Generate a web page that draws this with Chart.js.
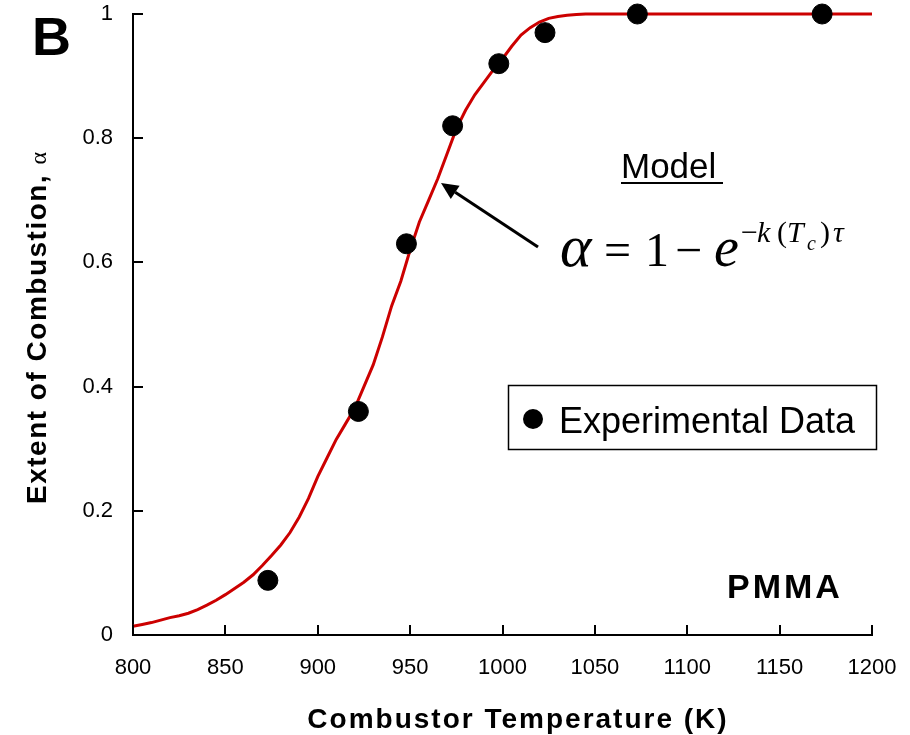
<!DOCTYPE html>
<html>
<head>
<meta charset="utf-8">
<script src="https://cdn.jsdelivr.net/npm/chart.js@4.4.1/dist/chart.umd.min.js"></script>
<style>
  body { margin: 0; background: #fff; }
  #wrap { width: 910px; height: 735px; }
</style>
</head>
<body>
<div id="wrap"><canvas id="myChart" width="910" height="735"></canvas></div>
<script>
// experimental points
const expTemps = [873, 922, 948, 973, 998, 1023, 1073, 1173];
const expAlpha = [0.088, 0.36, 0.63, 0.82, 0.92, 0.97, 1.0, 1.0];

// model curve
const modelTemps = [800, 805, 810, 815, 820, 825, 830, 835, 840, 845, 850, 855, 860, 865, 870, 875, 880, 885, 890, 895,
  900, 905, 910, 915, 920, 925, 930, 935, 940, 945, 950, 955, 960, 965, 970, 975, 980, 985, 990, 995,
  1000, 1005, 1010, 1015, 1020, 1025, 1030, 1035, 1040, 1045, 1050, 1100, 1150, 1200];
const modelAlpha = [0.014, 0.017, 0.020, 0.024, 0.028, 0.031, 0.035, 0.041, 0.048, 0.056, 0.065, 0.075, 0.085, 0.097, 0.112, 0.128, 0.145, 0.165, 0.19, 0.22,
  0.255, 0.285, 0.315, 0.34, 0.365, 0.40, 0.435, 0.48, 0.53, 0.57, 0.62, 0.665, 0.70, 0.735, 0.775, 0.815, 0.845, 0.87, 0.89, 0.91,
  0.928, 0.948, 0.966, 0.978, 0.987, 0.993, 0.996, 0.998, 0.999, 1.0, 1.0, 1.0, 1.0, 1.0];

const xTicks = [800, 850, 900, 950, 1000, 1050, 1100, 1150, 1200];
const yTicks = [0, 0.2, 0.4, 0.6, 0.8, 1];

const sans = "'Liberation Sans', Arial, sans-serif";
const serif = "'Liberation Serif', 'Times New Roman', serif";

// inward tick marks + text annotations
const extras = {
  id: 'extras',
  afterDatasetsDraw(chart) {
    const ctx = chart.ctx;
    const xs = chart.scales.x, ys = chart.scales.y;
    const area = chart.chartArea;
    ctx.save();
    ctx.strokeStyle = '#000';
    ctx.lineWidth = 2;
    xTicks.forEach(v => {
      const px = Math.round(xs.getPixelForValue(v));
      ctx.beginPath();
      ctx.moveTo(px, area.bottom);
      ctx.lineTo(px, area.bottom - 10);
      ctx.stroke();
    });
    yTicks.forEach(v => {
      const py = Math.round(ys.getPixelForValue(v));
      ctx.beginPath();
      ctx.moveTo(area.left, py);
      ctx.lineTo(area.left + 10, py);
      ctx.stroke();
    });
    ctx.restore();
  },
  afterDraw(chart) {
    const ctx = chart.ctx;
    ctx.save();
    ctx.fillStyle = '#000';
    ctx.textBaseline = 'alphabetic';

    // panel letter
    ctx.font = 'bold 54px ' + sans;
    ctx.fillText('B', 32, 55);

    // axis titles
    ctx.font = 'bold 28px ' + sans;
    ctx.letterSpacing = '2px';
    ctx.textAlign = 'center';
    ctx.fillText('Combustor Temperature (K)', 518, 728);

    ctx.save();
    ctx.translate(46, 328);
    ctx.rotate(-Math.PI / 2);
    ctx.letterSpacing = '1.5px';
    ctx.textAlign = 'left';
    const yTitle = 'Extent of Combustion, ';
    const w1 = ctx.measureText(yTitle).width;
    ctx.font = '24px ' + serif;
    ctx.letterSpacing = '0px';
    const w2 = ctx.measureText('α').width;
    const start = -(w1 + w2) / 2;
    ctx.font = 'bold 28px ' + sans;
    ctx.letterSpacing = '1.5px';
    ctx.fillText(yTitle, start, 0);
    ctx.font = '24px ' + serif;
    ctx.letterSpacing = '0px';
    ctx.fillText('α', start + w1, 0);
    ctx.restore();

    ctx.letterSpacing = '0px';
    ctx.textAlign = 'left';

    // Model label
    ctx.font = '35px ' + sans;
    ctx.fillText('Model', 621, 178);
    ctx.fillRect(621, 182, 102, 2);

    // formula
    ctx.font = 'italic 60px ' + serif;
    ctx.fillText('α', 560, 266);
    ctx.font = '48px ' + serif;
    ctx.fillText('=', 604, 266);
    ctx.fillText('1', 645, 266);
    ctx.fillText('−', 675, 266);
    ctx.font = 'italic 56px ' + serif;
    ctx.fillText('e', 714, 266);
    ctx.font = '30px ' + serif;
    ctx.fillText('−', 741, 242);
    ctx.font = 'italic 30px ' + serif;
    ctx.fillText('k', 757, 242);
    ctx.font = '30px ' + serif;
    ctx.fillText('(', 777, 242);
    ctx.font = 'italic 30px ' + serif;
    ctx.fillText('T', 787, 242);
    ctx.font = 'italic 20px ' + serif;
    ctx.fillText('c', 807, 250);
    ctx.font = '30px ' + serif;
    ctx.fillText(')', 820, 242);
    ctx.font = 'italic 30px ' + serif;
    ctx.fillText('τ', 833, 242);

    // arrow
    const tx = 441, ty = 183, fx = 538, fy = 247;
    const ang = Math.atan2(ty - fy, tx - fx);
    const hl = 17, hw = 8;
    const bx = tx - hl * Math.cos(ang), by = ty - hl * Math.sin(ang);
    ctx.strokeStyle = '#000';
    ctx.lineWidth = 3;
    ctx.beginPath();
    ctx.moveTo(fx, fy);
    ctx.lineTo(bx, by);
    ctx.stroke();
    ctx.beginPath();
    ctx.moveTo(tx, ty);
    ctx.lineTo(bx + hw * Math.sin(ang), by - hw * Math.cos(ang));
    ctx.lineTo(bx - hw * Math.sin(ang), by + hw * Math.cos(ang));
    ctx.closePath();
    ctx.fill();

    // legend box
    ctx.lineWidth = 1.5;
    ctx.strokeRect(508.5, 385.5, 368, 64);
    ctx.beginPath();
    ctx.arc(533, 419, 10, 0, Math.PI * 2);
    ctx.fill();
    ctx.font = '36px ' + sans;
    ctx.fillText('Experimental Data', 559, 433);

    // material label
    ctx.font = 'bold 34px ' + sans;
    ctx.letterSpacing = '3px';
    ctx.fillText('PMMA', 727, 598);
    ctx.restore();
  }
};

const ctx = document.getElementById('myChart');
new Chart(ctx, {
  type: 'scatter',
  data: {
    datasets: [{
      label: 'Experimental Data',
      data: expTemps.map((t, i) => ({ x: t, y: expAlpha[i] })),
      backgroundColor: '#000',
      borderColor: '#000',
      pointRadius: 10,
      pointHoverRadius: 10,
      showLine: false,
      clip: false
    }, {
      label: 'Model',
      data: modelTemps.map((t, i) => ({ x: t, y: modelAlpha[i] })),
      borderColor: '#cc0000',
      borderWidth: 3,
      pointRadius: 0,
      showLine: true,
      tension: 0,
      clip: false
    }]
  },
  options: {
    responsive: false,
    animation: false,
    devicePixelRatio: 1,
    layout: { padding: { top: 14, right: 38, left: 0, bottom: 0 } },
    plugins: {
      legend: { display: false },
      tooltip: { enabled: false },
      title: { display: false }
    },
    scales: {
      x: {
        type: 'linear',
        min: 800,
        max: 1200,
        afterFit: scale => {
          scale.height = 100;
          scale.paddingLeft = 0;
          scale.paddingRight = 0;
        },
        afterBuildTicks: scale => { scale.ticks = xTicks.map(v => ({ value: v })); },
        ticks: {
          color: '#000', font: { family: sans, size: 22 }, padding: 20, maxRotation: 0,
          callback: v => String(v)
        },
        grid: { display: false, drawTicks: false },
        border: { display: true, color: '#000', width: 2 }
      },
      y: {
        min: 0,
        max: 1,
        afterFit: scale => {
          scale.width = 133;
          scale.paddingTop = 0;
          scale.paddingBottom = 0;
        },
        afterBuildTicks: scale => { scale.ticks = yTicks.map(v => ({ value: v })); },
        ticks: {
          color: '#000', font: { family: sans, size: 22 }, padding: 20,
          callback: v => String(Math.round(v * 10) / 10)
        },
        grid: { display: false, drawTicks: false },
        border: { display: true, color: '#000', width: 2 }
      }
    }
  },
  plugins: [extras]
});
</script>
</body>
</html>
